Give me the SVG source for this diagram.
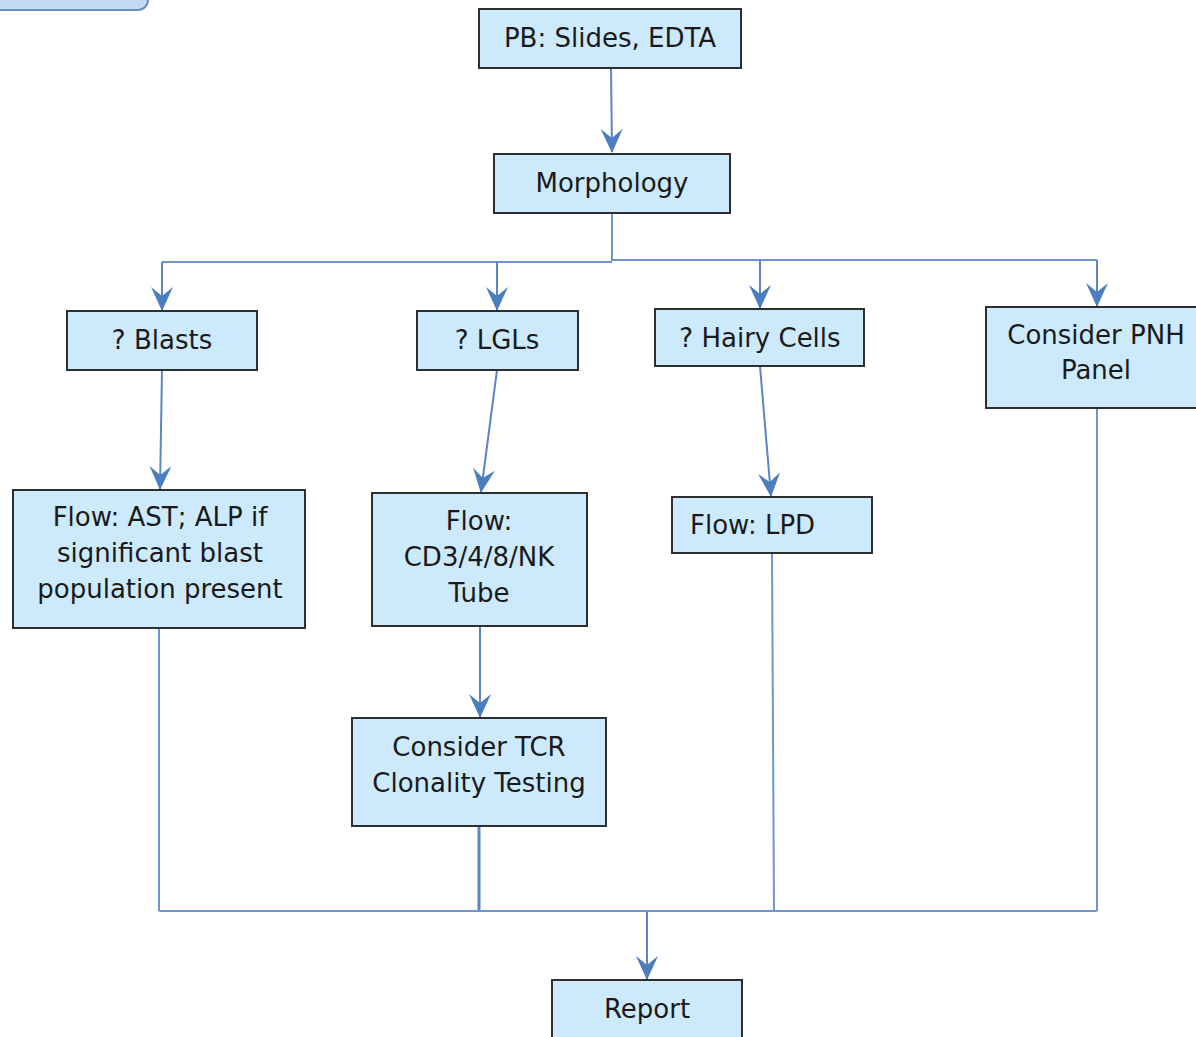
<svg xmlns="http://www.w3.org/2000/svg" width="1196" height="1037" viewBox="0 0 1196 1037">
<style>
.box{fill:#cdeafd;stroke:#2e2e2e;stroke-width:2}
.t{font-family:"DejaVu Sans",Verdana,sans-serif;font-size:26px;fill:#1a1a1a;text-anchor:middle}
.c{fill:none;stroke:#6f95cf;stroke-width:2}
.a{fill:none;stroke:#5b86c4;stroke-width:2;marker-end:url(#arr)}
</style>
<defs>
<marker id="arr" viewBox="0 0 24 22" refX="23" refY="11" markerWidth="24" markerHeight="22" markerUnits="userSpaceOnUse" orient="auto">
<path d="M0,0 L24,11 L0,22 L9,11 z" fill="#4a7ebf"/>
</marker>
</defs>
<rect x="-20" y="-40" width="168" height="50" rx="10" fill="#c5d9f1" stroke="#6a8fc7" stroke-width="2"/>
<g id="connectors">
<path class="a" d="M611,68 L612,152"/>
<path class="c" d="M612,213 L612,261"/>
<path class="c" d="M162,262 L612,262"/>
<path class="c" d="M612,260 L1097,260"/>
<path class="a" d="M162,262 L162,310"/>
<path class="a" d="M497,262 L497,310"/>
<path class="a" d="M760,260 L760,308"/>
<path class="a" d="M1097,260 L1097,306"/>
<path class="a" d="M162,370 L160,489"/>
<path class="a" d="M497,370 L481,492"/>
<path class="a" d="M760,366 L771,496"/>
<path class="a" d="M480,626 L480,717"/>
<path class="c" d="M159,628 L159,911"/>
<path class="c" d="M479,826 L479,911" style="stroke-width:3;stroke:#5b86c4"/>
<path class="c" d="M772,553 L774,911"/>
<path class="c" d="M1097,408 L1097,911"/>
<path class="c" d="M159,911 L1097,911"/>
<path class="a" d="M647,911 L647,979"/>
</g>
<g id="pb"><rect class="box" x="479" y="9" width="262" height="59"/><text class="t" x="610" y="47">PB: Slides, EDTA</text></g>
<g id="morphology"><rect class="box" x="494" y="154" width="236" height="59"/><text class="t" x="612" y="192">Morphology</text></g>
<g id="blasts"><rect class="box" x="67" y="311" width="190" height="59"/><text class="t" x="162" y="349">? Blasts</text></g>
<g id="lgls"><rect class="box" x="417" y="311" width="161" height="59"/><text class="t" x="497" y="349">? LGLs</text></g>
<g id="hairy"><rect class="box" x="655" y="309" width="209" height="57"/><text class="t" x="760" y="347">? Hairy Cells</text></g>
<g id="pnh"><rect class="box" x="986" y="307" width="215" height="101"/><text class="t" x="1096" y="344">Consider PNH</text><text class="t" x="1096" y="379">Panel</text></g>
<g id="flow-ast"><rect class="box" x="13" y="490" width="292" height="138"/><text class="t" x="160" y="526">Flow: AST; ALP if</text><text class="t" x="160" y="562">significant blast</text><text class="t" x="160" y="598">population present</text></g>
<g id="flow-cd3"><rect class="box" x="372" y="493" width="215" height="133"/><text class="t" x="479" y="530">Flow:</text><text class="t" x="479" y="566">CD3/4/8/NK</text><text class="t" x="479" y="602">Tube</text></g>
<g id="flow-lpd"><rect class="box" x="672" y="497" width="200" height="56"/><text class="t" x="690" y="534" style="text-anchor:start">Flow: LPD</text></g>
<g id="tcr"><rect class="box" x="352" y="718" width="254" height="108"/><text class="t" x="479" y="756">Consider TCR</text><text class="t" x="479" y="792">Clonality Testing</text></g>
<g id="report"><rect class="box" x="552" y="980" width="190" height="70"/><text class="t" x="647" y="1018">Report</text></g>
</svg>
